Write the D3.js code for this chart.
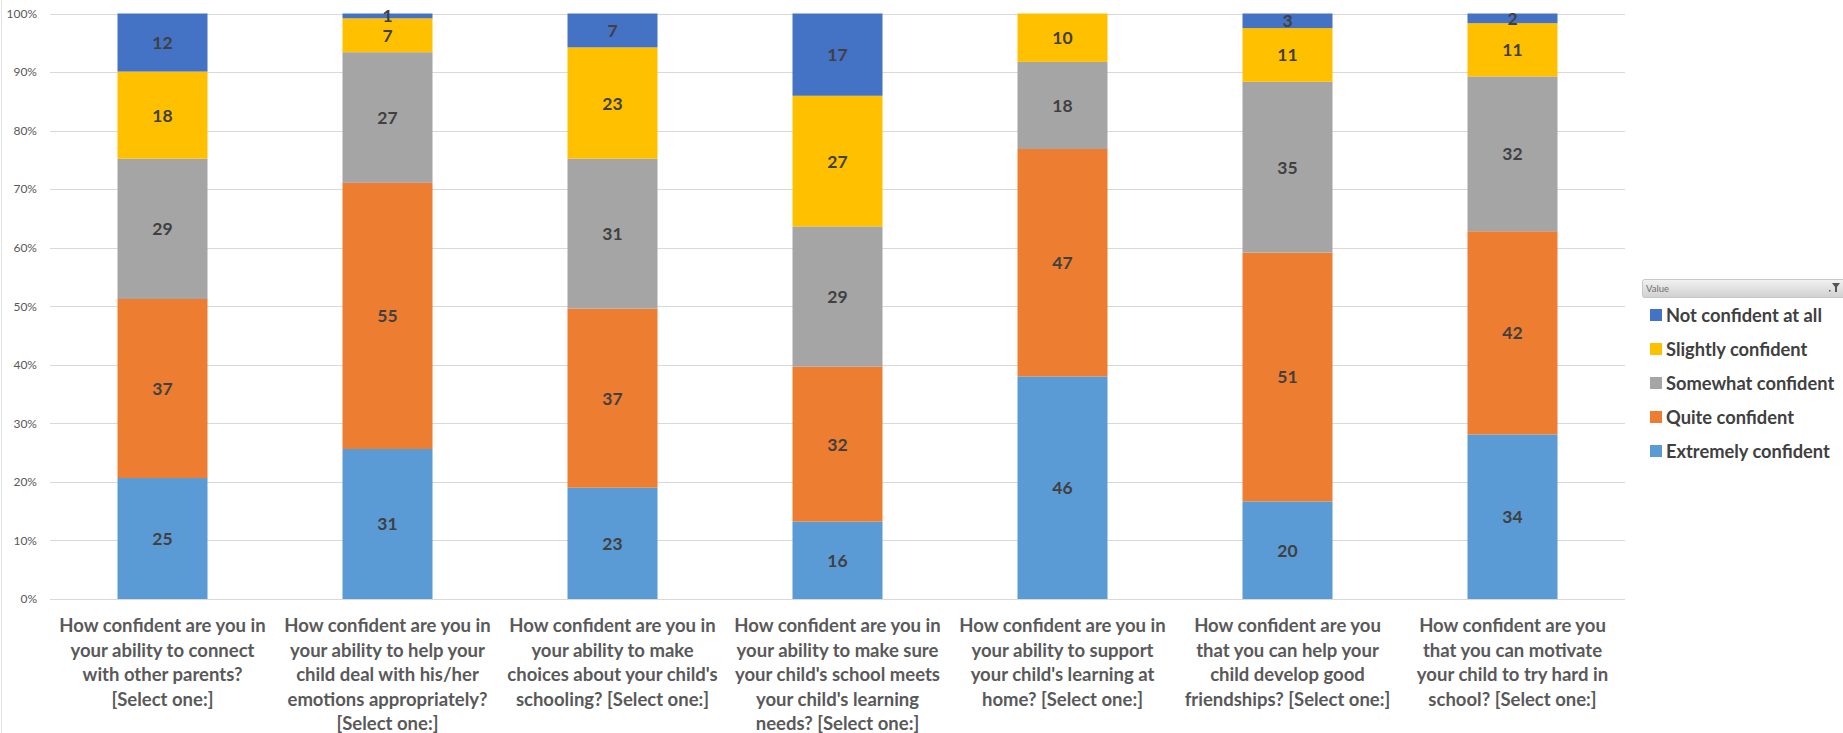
<!DOCTYPE html>
<html>
<head>
<meta charset="utf-8">
<script src="https://cdn.jsdelivr.net/npm/d3@7"></script>
<style>
  html, body { margin: 0; padding: 0; background: #fff; }
  svg { display: block; }
  text { font-family: Lato, "Open Sans", sans-serif; }
</style>
</head>
<body>
<svg id="chart" width="1843" height="733"></svg>
<script>
// ---------- DATA ----------
const categories = [
  "How confident are you in\nyour ability to connect\nwith other parents?\n[Select one:]",
  "How confident are you in\nyour ability to help your\nchild deal with his/her\nemotions appropriately?\n[Select one:]",
  "How confident are you in\nyour ability to make\nchoices about your child's\nschooling? [Select one:]",
  "How confident are you in\nyour ability to make sure\nyour child's school meets\nyour child's learning\nneeds? [Select one:]",
  "How confident are you in\nyour ability to support\nyour child's learning at\nhome? [Select one:]",
  "How confident are you\nthat you can help your\nchild develop good\nfriendships? [Select one:]",
  "How confident are you\nthat you can motivate\nyour child to try hard in\nschool? [Select one:]"
];
const seriesNames = ["Extremely confident", "Quite confident", "Somewhat confident", "Slightly confident", "Not confident at all"];
const extremely = [25, 31, 23, 16, 46, 20, 34];
const quite     = [37, 55, 37, 32, 47, 51, 42];
const somewhat  = [29, 27, 31, 29, 18, 35, 32];
const slightly  = [18, 7, 23, 27, 10, 11, 11];
const notAtAll  = [12, 1, 7, 17, 0, 3, 2];
const yTicks = [0, 0.1, 0.2, 0.3, 0.4, 0.5, 0.6, 0.7, 0.8, 0.9, 1.0];
const colors = ["#5B9BD5", "#ED7D31", "#A5A5A5", "#FFC000", "#4472C4"];
const legendOrder = ["Not confident at all", "Slightly confident", "Somewhat confident", "Quite confident", "Extremely confident"];

// ---------- BUILD TABLE ----------
const seriesValues = [extremely, quite, somewhat, slightly, notAtAll];
const rows = categories.map((c, i) => {
  const r = { cat: c };
  const tot = d3.sum(seriesValues, s => s[i]);
  seriesNames.forEach((n, k) => { r[n] = seriesValues[k][i] / tot; r["_raw_" + n] = seriesValues[k][i]; });
  return r;
});
const stacked = d3.stack().keys(seriesNames)(rows);

// ---------- LAYOUT ----------
const svg = d3.select("#chart");
const plotLeft = 50, plotRight = 1625, plotTop = 13.5, plotBottom = 599;

const x = d3.scaleBand().domain(categories).range([plotLeft, plotRight]).paddingInner(0.6).paddingOuter(0.3);
const y = d3.scaleLinear().domain([0, 1]).range([plotBottom, plotTop]);
const color = d3.scaleOrdinal().domain(seriesNames).range(colors);

// left frame edge
svg.append("line").attr("x1", 1.5).attr("x2", 1.5).attr("y1", 0).attr("y2", 733)
  .attr("stroke", "#E3E3E3").attr("stroke-width", 1);

// gridlines
svg.append("g").selectAll("line").data(yTicks).join("line")
  .attr("x1", plotLeft).attr("x2", plotRight)
  .attr("y1", d => Math.round(y(d)) + 0.5).attr("y2", d => Math.round(y(d)) + 0.5)
  .attr("stroke", "#D9D9D9").attr("stroke-width", 1);

// y axis labels
const yAxis = d3.axisLeft(y).tickValues(yTicks).tickFormat(d3.format(".0%")).tickSize(0).tickPadding(0);
const yg = svg.append("g").attr("transform", `translate(${37},0)`).call(yAxis);
yg.select(".domain").remove();
yg.selectAll("text").attr("fill", "#595959").style("font-size", "12px").style("font-family", "Lato, sans-serif");

// bars
const layers = svg.append("g").selectAll("g").data(stacked).join("g")
  .attr("fill", d => color(d.key));
layers.selectAll("rect").data(d => d.map(p => ({ p, key: d.key }))).join("rect")
  .attr("x", d => x(d.p.data.cat))
  .attr("width", x.bandwidth())
  .attr("y", d => y(d.p[1]))
  .attr("height", d => y(d.p[0]) - y(d.p[1]));

// data labels
const lbl = svg.append("g");
stacked.forEach(layer => {
  layer.forEach(p => {
    const raw = p.data["_raw_" + layer.key];
    if (!raw) return;
    lbl.append("text")
      .attr("x", x(p.data.cat) + x.bandwidth() / 2)
      .attr("y", (y(p[0]) + y(p[1])) / 2)
      .attr("text-anchor", "middle")
      .attr("dominant-baseline", "central")
      .attr("fill", "#404040")
      .style("font-size", "17.5px")
      .style("font-weight", "bold")
      .text(raw);
  });
});

// category labels
const xg = svg.append("g");
categories.forEach(c => {
  const lines = c.split("\n");
  const t = xg.append("text")
    .attr("text-anchor", "middle")
    .attr("fill", "#595959")
    .style("font-size", "18.5px")
    .style("font-weight", "bold");
  lines.forEach((ln, i) => {
    t.append("tspan")
      .attr("x", x(c) + x.bandwidth() / 2)
      .attr("y", 632 + i * 24.6)
      .text(ln);
  });
});

// legend header ("Value" field button)
const defs = svg.append("defs");
const grad = defs.append("linearGradient").attr("id", "hdr").attr("x1", 0).attr("x2", 0).attr("y1", 0).attr("y2", 1);
grad.append("stop").attr("offset", "0%").attr("stop-color", "#F2F2F2");
grad.append("stop").attr("offset", "100%").attr("stop-color", "#D0D0D0");
svg.append("rect").attr("x", 1642.5).attr("y", 279.5).attr("width", 210).attr("height", 18)
  .attr("rx", 2).attr("fill", "url(#hdr)").attr("stroke", "#C8C8C8");
svg.append("text").attr("x", 1646).attr("y", 292).attr("fill", "#707070")
  .style("font-size", "9.5px").text("Value");
// filter icon
svg.append("path").attr("d", "M1832,283 L1840,283 L1837,287 L1837,292 L1835,292 L1835,287 Z").attr("fill", "#555");
svg.append("rect").attr("x", 1829).attr("y", 290).attr("width", 1.5).attr("height", 1.5).attr("fill", "#555");

// legend items
const leg = svg.append("g");
legendOrder.forEach((n, i) => {
  const cy = 315 + i * 34;
  leg.append("rect").attr("x", 1650).attr("y", cy - 6).attr("width", 12).attr("height", 12).attr("fill", color(n));
  leg.append("text").attr("x", 1666).attr("y", cy).attr("dominant-baseline", "central")
    .attr("fill", "#404040").style("font-size", "18.3px").style("font-weight", "bold").text(n);
});
</script>
</body>
</html>
